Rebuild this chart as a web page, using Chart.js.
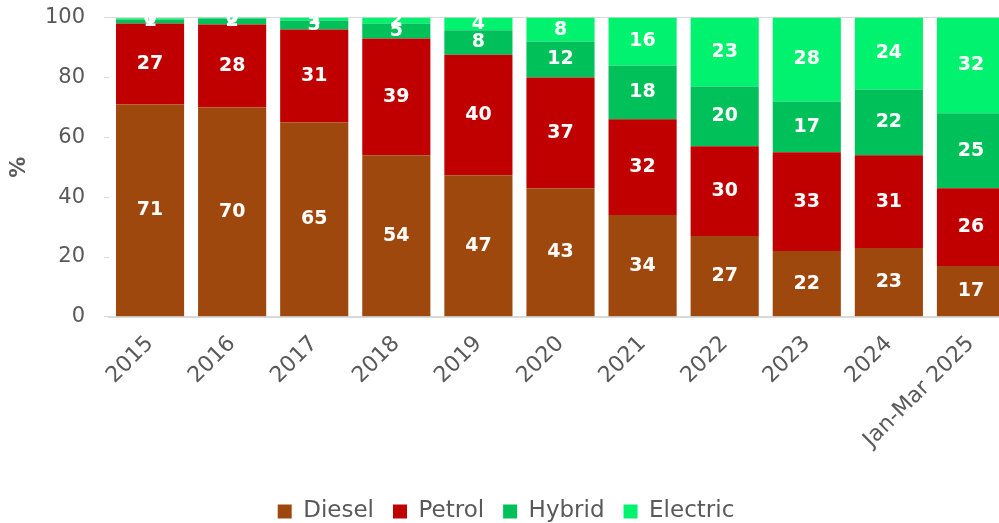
<!DOCTYPE html>
<html>
<head>
<meta charset="utf-8">
<script src="https://cdn.jsdelivr.net/npm/chart.js@4"></script>
<style>
  html, body { margin: 0; background: #fff; overflow: hidden; }
  #wrap { width: 1012px; height: 551px; margin-top: -14px; }
</style>
</head>
<body>
<div id="wrap"><canvas id="canvass"></canvas></div>
<script>
var years = ["2015", "2016", "2017", "2018", "2019", "2020", "2021", "2022", "2023", "2024", "Jan-Mar 2025"];
var diesel = [71, 70, 65, 54, 47.3, 43, 34, 27, 22, 23, 17];
var petrol = [27, 27.7, 31, 39, 40.3, 37, 32, 30, 33, 31, 26];
var hybrid = [1.4, 2, 3, 5, 8.2, 12, 18, 20, 17, 22, 25];
var electric = [0.4, 0.3, 1, 2, 4.2, 8, 16, 23, 28, 24, 32];
var yTicks = [0, 20, 40, 60, 80, 100];

var FONT = '"DejaVu Sans", Verdana, sans-serif';

// white value labels in the middle of each segment
var segLabels = {
    id: 'segLabels',
    afterDatasetsDraw: function (chart) {
        var ctx = chart.ctx;
        ctx.save();
        ctx.fillStyle = '#ffffff';
        ctx.font = 'bold 19px ' + FONT;
        ctx.textAlign = 'center';
        ctx.textBaseline = 'middle';
        chart.data.datasets.forEach(function (ds, i) {
            var meta = chart.getDatasetMeta(i);
            meta.data.forEach(function (bar, j) {
                var mid = (bar.y + bar.base) / 2;
                ctx.fillText(String(Math.round(ds.data[j])), bar.x, mid);
            });
        });
        ctx.restore();
    }
};

var data = {
    labels: years,
    datasets: [
        { label: 'Diesel', data: diesel, backgroundColor: '#9E480E' },
        { label: 'Petrol', data: petrol, backgroundColor: '#C00000' },
        { label: 'Hybrid', data: hybrid, backgroundColor: '#00C05A' },
        { label: 'Electric', data: electric, backgroundColor: '#00F26E' }
    ]
};

try {
    var ctx = document.getElementById('canvass').getContext('2d');
    var myChart = new Chart(ctx, {
        type: 'bar',
        data: data,
        plugins: [segLabels],
        options: {
            responsive: true,
            maintainAspectRatio: false,
            animation: false,
            layout: { padding: { top: 0, right: 0, left: 0, bottom: 4 } },
            datasets: { bar: { barPercentage: 0.83, categoryPercentage: 1 } },
            plugins: {
                tooltip: { enabled: false },
                legend: {
                    position: 'bottom',
                    labels: {
                        color: '#595959',
                        font: { size: 23, family: FONT },
                        boxWidth: 14, boxHeight: 14, padding: 19
                    }
                }
            },
            scales: {
                x: {
                    stacked: true,
                    afterFit: function (axis) { axis.height += 22; },
                    grid: { display: false },
                    border: { display: true, color: '#d9d9d9', width: 2 },
                    ticks: {
                        color: '#595959', maxRotation: 45, minRotation: 45, padding: 6,
                        font: { size: 22, family: FONT }
                    }
                },
                y: {
                    stacked: true, min: 0, max: 100,
                    afterFit: function (axis) { axis.width = 109; },
                    afterBuildTicks: function (axis) {
                        axis.ticks = yTicks.map(function (v) { return { value: v }; });
                    },
                    grid: {
                        drawOnChartArea: true, drawTicks: true, tickLength: 5,
                        tickColor: '#d9d9d9',
                        color: function (c) { return c.tick && c.tick.value === 100 ? '#d9d9d9' : 'rgba(0,0,0,0)'; }
                    },
                    border: { display: false },
                    title: {
                        display: true, text: '%', color: '#595959', padding: { top: 7, bottom: 0 },
                        font: { size: 21, weight: 'bold', family: FONT }
                    },
                    ticks: {
                        color: '#595959', padding: 19,
                        font: { size: 21, family: FONT }
                    }
                }
            }
        }
    });
} catch (e) {
    console.log('We have encountered an error: ' + e);
}
</script>
</body>
</html>
